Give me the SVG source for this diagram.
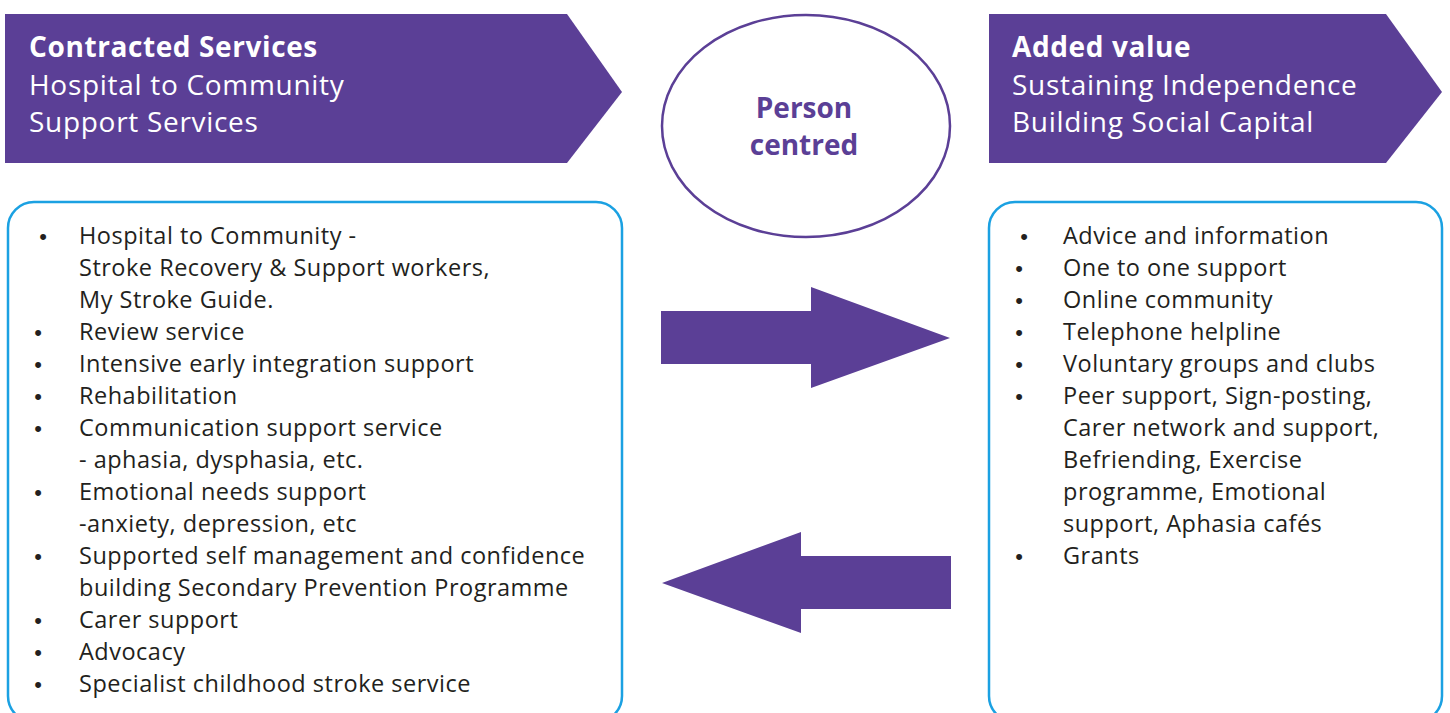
<svg xmlns="http://www.w3.org/2000/svg" width="1450" height="713" viewBox="0 0 1450 713">
  <style>
    .banner { fill: #5B3F96; }
    .head { font-family: "Open Sans", "Liberation Sans", sans-serif; font-size: 28px; letter-spacing: 0.7px; fill: #ffffff; }
    .head .b { font-weight: 700; letter-spacing: 0.6px; }
    .box { fill: #ffffff; stroke: #1BA1E2; stroke-width: 2.5; }
    .item { font-family: "Open Sans", "Liberation Sans", sans-serif; font-size: 23.5px; letter-spacing: 0.5px; fill: #231F20; }
    .dot { font-family: "Liberation Sans", sans-serif; font-size: 22px; fill: #231F20; text-anchor: middle; }
    .hub { fill: #ffffff; stroke: #5B3F96; stroke-width: 2.5; }
    .hubtext { font-family: "Open Sans", "Liberation Sans", sans-serif; font-size: 28px; font-weight: 700; fill: #5B3F96; text-anchor: middle; }
    .flow { fill: #5B3F96; }
  </style>

  <rect width="1450" height="713" fill="#ffffff"/>

  <!-- Left heading banner -->
  <g id="contracted-banner">
    <polygon class="banner" points="5,14 567,14 622,92 567,163 5,163"/>
    <text class="head" x="29" y="57"><tspan class="b">Contracted Services</tspan></text>
    <text class="head" x="29" y="94.5">Hospital to Community</text>
    <text class="head" x="29" y="132">Support Services</text>
  </g>

  <!-- Right heading banner -->
  <g id="added-value-banner">
    <polygon class="banner" points="989,14 1386,14 1442,92 1386,163 989,163"/>
    <text class="head" x="1012" y="57"><tspan class="b">Added value</tspan></text>
    <text class="head" x="1012" y="94.5">Sustaining Independence</text>
    <text class="head" x="1012" y="132">Building Social Capital</text>
  </g>

  <!-- Centre ellipse -->
  <g id="person-centred">
    <ellipse class="hub" cx="806" cy="126" rx="144" ry="111"/>
    <text class="hubtext" x="804" y="118">Person</text>
    <text class="hubtext" x="804" y="155">centred</text>
  </g>

  <!-- Left list box -->
  <g id="contracted-list">
    <rect class="box" x="8" y="202" width="614" height="520" rx="26"/>
    <text class="dot" x="43" y="244">•</text>
    <text class="item" x="79" y="244">Hospital to Community -</text>
    <text class="item" x="79" y="276">Stroke Recovery &amp; Support workers,</text>
    <text class="item" x="79" y="308">My Stroke Guide.</text>
    <text class="dot" x="38" y="340">•</text>
    <text class="item" x="79" y="340">Review service</text>
    <text class="dot" x="38" y="372">•</text>
    <text class="item" x="79" y="372">Intensive early integration support</text>
    <text class="dot" x="38" y="404">•</text>
    <text class="item" x="79" y="404">Rehabilitation</text>
    <text class="dot" x="38" y="436">•</text>
    <text class="item" x="79" y="436">Communication support service</text>
    <text class="item" x="79" y="468">- aphasia, dysphasia, etc.</text>
    <text class="dot" x="38" y="500">•</text>
    <text class="item" x="79" y="500">Emotional needs support</text>
    <text class="item" x="79" y="532">-anxiety, depression, etc</text>
    <text class="dot" x="38" y="564">•</text>
    <text class="item" x="79" y="564">Supported self management and confidence</text>
    <text class="item" x="79" y="596">building Secondary Prevention Programme</text>
    <text class="dot" x="38" y="628">•</text>
    <text class="item" x="79" y="628">Carer support</text>
    <text class="dot" x="38" y="660">•</text>
    <text class="item" x="79" y="660">Advocacy</text>
    <text class="dot" x="38" y="692">•</text>
    <text class="item" x="79" y="692">Specialist childhood stroke service</text>
  </g>

  <!-- Right list box -->
  <g id="added-value-list">
    <rect class="box" x="989" y="202" width="453" height="520" rx="26"/>
    <text class="dot" x="1024" y="244">•</text>
    <text class="item" x="1063" y="244">Advice and information</text>
    <text class="dot" x="1019" y="276">•</text>
    <text class="item" x="1063" y="276">One to one support</text>
    <text class="dot" x="1019" y="308">•</text>
    <text class="item" x="1063" y="308">Online community</text>
    <text class="dot" x="1019" y="340">•</text>
    <text class="item" x="1063" y="340">Telephone helpline</text>
    <text class="dot" x="1019" y="372">•</text>
    <text class="item" x="1063" y="372">Voluntary groups and clubs</text>
    <text class="dot" x="1019" y="404">•</text>
    <text class="item" x="1063" y="404">Peer support, Sign-posting,</text>
    <text class="item" x="1063" y="436">Carer network and support,</text>
    <text class="item" x="1063" y="468">Befriending, Exercise</text>
    <text class="item" x="1063" y="500">programme, Emotional</text>
    <text class="item" x="1063" y="532">support, Aphasia cafés</text>
    <text class="dot" x="1019" y="564">•</text>
    <text class="item" x="1063" y="564">Grants</text>
  </g>

  <!-- Two-way block arrows between the lists -->
  <g id="connectors">
    <polygon class="flow" points="661,311 811,311 811,287 950,338 811,388 811,364 661,364"/>
    <polygon class="flow" points="951,556 801,556 801,532 662,583 801,633 801,609 951,609"/>
  </g>
</svg>
